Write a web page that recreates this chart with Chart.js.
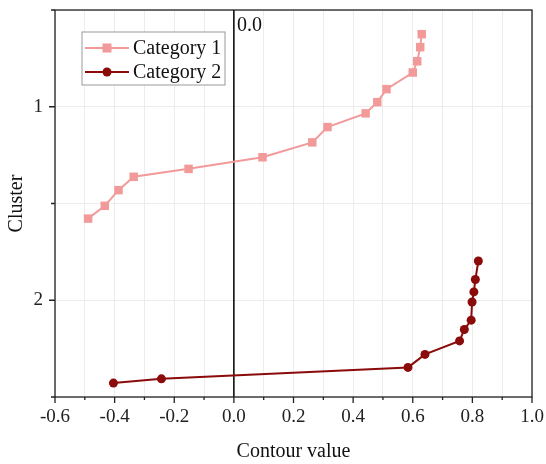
<!DOCTYPE html>
<html>
<head>
<meta charset="utf-8">
<script src="https://cdn.jsdelivr.net/npm/chart.js@4"></script>
<style>
  html, body { margin: 0; padding: 0; background: #fff; }
  #wrap { width: 546px; height: 464px; }
</style>
</head>
<body>
<div id="wrap"><canvas id="chart" width="546" height="464"></canvas></div>
<script>
// Data
const seriesNames = ["Category 1", "Category 2"];
const cat1X = [-0.489, -0.433, -0.387, -0.336, -0.152, 0.096, 0.263, 0.314, 0.442, 0.481, 0.512, 0.600, 0.615, 0.625, 0.630];
const cat1Y = [1.578, 1.512, 1.431, 1.362, 1.321, 1.261, 1.184, 1.105, 1.034, 0.976, 0.909, 0.823, 0.765, 0.692, 0.625];
const cat2X = [-0.404, -0.243, 0.584, 0.641, 0.757, 0.773, 0.796, 0.799, 0.805, 0.810, 0.820];
const cat2Y = [2.428, 2.406, 2.347, 2.280, 2.210, 2.151, 2.103, 2.009, 1.957, 1.893, 1.797];
const xLabels = [-0.6, -0.4, -0.2, 0.0, 0.2, 0.4, 0.6, 0.8, 1.0];
const yLabels = [1, 2];
const refLineX = 0;
const refLineLabel = "0.0";

const FONT = "'Liberation Serif', 'Times New Roman', serif";
const colors = ["#f29a9a", "#8b0a0a"];
const pointStyles = ["rect", "circle"];

const toPoints = (xs, ys) => xs.map((x, i) => ({ x: x, y: ys[i] }));
const near = (v, list) => list.some(t => Math.abs(t - v) < 1e-6);

// tick marks, frame, zero line and legend
const decor = {
  id: "decor",
  beforeDatasetsDraw(chart) {
    const { ctx, chartArea: a, scales: { x, y } } = chart;
    ctx.save();
    // zero line
    const zx = x.getPixelForValue(refLineX);
    ctx.strokeStyle = "#000";
    ctx.lineWidth = 1.5;
    ctx.beginPath();
    ctx.moveTo(zx, a.top);
    ctx.lineTo(zx, a.bottom);
    ctx.stroke();
    ctx.fillStyle = "#111";
    ctx.font = "20px " + FONT;
    ctx.textAlign = "left";
    ctx.textBaseline = "alphabetic";
    ctx.fillText(refLineLabel, zx + 3, a.top + 21);
    ctx.restore();
  },
  afterDraw(chart) {
    const { ctx, chartArea: a, scales: { x, y } } = chart;
    ctx.save();
    ctx.strokeStyle = "#222";
    ctx.lineWidth = 1.3;
    ctx.strokeRect(a.left, a.top, a.right - a.left, a.bottom - a.top);
    ctx.beginPath();
    x.ticks.forEach(t => {
      const px = x.getPixelForValue(t.value);
      const len = near(t.value, xLabels) ? 6 : 3;
      ctx.moveTo(px, a.bottom);
      ctx.lineTo(px, a.bottom + len);
    });
    y.ticks.forEach(t => {
      const py = y.getPixelForValue(t.value);
      const len = near(t.value, yLabels) ? 6 : 4;
      ctx.moveTo(a.left, py);
      ctx.lineTo(a.left - len, py);
    });
    ctx.stroke();

    // legend box
    const lx = a.left + 27, ly = a.top + 22, lw = 143, lh = 53;
    ctx.fillStyle = "#fff";
    ctx.fillRect(lx, ly, lw, lh);
    ctx.strokeStyle = "#999";
    ctx.lineWidth = 1;
    ctx.strokeRect(lx, ly, lw, lh);
    chart.data.datasets.forEach((ds, i) => {
      const cy = ly + 16 + i * 24;
      ctx.strokeStyle = ds.borderColor;
      ctx.lineWidth = 2;
      ctx.beginPath();
      ctx.moveTo(lx + 3, cy);
      ctx.lineTo(lx + 47, cy);
      ctx.stroke();
      ctx.fillStyle = ds.backgroundColor;
      if (ds.pointStyle === "rect") {
        ctx.fillRect(lx + 25 - 4.5, cy - 4.5, 9, 9);
      } else {
        ctx.beginPath();
        ctx.arc(lx + 25, cy, ds.pointRadius, 0, Math.PI * 2);
        ctx.fill();
      }
      ctx.fillStyle = "#111";
      ctx.font = "20px " + FONT;
      ctx.textAlign = "left";
      ctx.textBaseline = "middle";
      ctx.fillText(ds.label, lx + 51, cy + 1);
    });
    ctx.restore();
  }
};

new Chart(document.getElementById("chart"), {
  type: "scatter",
  data: {
    datasets: [
      {
        label: seriesNames[0],
        data: toPoints(cat1X, cat1Y),
        showLine: true,
        borderColor: colors[0],
        backgroundColor: colors[0],
        borderWidth: 2,
        pointStyle: pointStyles[0],
        pointRadius: 6,
        pointBorderWidth: 0
      },
      {
        label: seriesNames[1],
        data: toPoints(cat2X, cat2Y),
        showLine: true,
        borderColor: colors[1],
        backgroundColor: colors[1],
        borderWidth: 2,
        pointStyle: pointStyles[1],
        pointRadius: 4.5,
        pointBorderWidth: 0
      }
    ]
  },
  options: {
    responsive: false,
    animation: false,
    layout: { padding: { top: 10, right: 14, left: 0, bottom: 0 } },
    plugins: { legend: { display: false }, tooltip: { enabled: false } },
    scales: {
      x: {
        type: "linear",
        min: -0.6,
        max: 1.0,
        afterFit: s => { s.height = 67; s.paddingLeft = 0; s.paddingRight = 0; },
        border: { display: false },
        grid: { color: "#ececec", lineWidth: 1, drawTicks: false },
        ticks: {
          stepSize: 0.1,
          padding: 9,
          color: "#222",
          font: { family: FONT, size: 19 },
          autoSkip: false,
          maxRotation: 0,
          callback: v => near(v, xLabels) ? v.toFixed(1) : ""
        },
        title: {
          display: true,
          text: "Contour value",
          color: "#111",
          font: { family: FONT, size: 20 },
          padding: { top: 0, bottom: 0 }
        }
      },
      y: {
        type: "linear",
        reverse: true,
        min: 0.5,
        max: 2.5,
        afterFit: s => { s.width = 55; s.paddingTop = 0; s.paddingBottom = 0; },
        border: { display: false },
        grid: { color: "#ececec", lineWidth: 1, drawTicks: false },
        ticks: {
          stepSize: 0.5,
          padding: 12,
          color: "#222",
          font: { family: FONT, size: 19 },
          autoSkip: false,
          callback: v => near(v, yLabels) ? String(v) : ""
        },
        title: {
          display: true,
          text: "Cluster",
          color: "#111",
          font: { family: FONT, size: 20 },
          padding: { top: 5, bottom: 0 }
        }
      }
    }
  },
  plugins: [decor]
});
</script>
</body>
</html>
